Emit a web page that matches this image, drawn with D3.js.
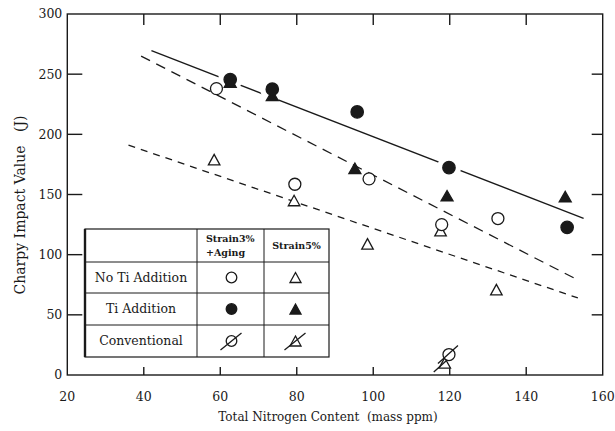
<!DOCTYPE html>
<html>
<head>
<meta charset="utf-8">
<script src="https://cdn.jsdelivr.net/npm/d3@7"></script>
<style>
  html, body { margin: 0; padding: 0; background: #fff; }
  svg { display: block; font-family: "DejaVu Serif", "Liberation Serif", serif; }
</style>
</head>
<body>
<div id="root"></div>
<script>
// values: [nitrogen ppm, impact J]
const noTiAging = [[59, 238], [79.5, 158.5], [98.9, 163], [117.9, 125], [132.6, 130]];
const noTiStrain5 = [[58.4, 179], [79.3, 145], [98.5, 109], [117.6, 120], [132.2, 71]];
const tiAging = [[62.6, 245.5], [73.6, 237.5], [95.8, 218.6], [119.8, 172.3], [150.7, 122.7]];
const tiStrain5 = [[62.6, 243.5], [73.6, 232.3], [95.2, 171.8], [119.3, 149], [150.2, 148.2]];
const convAging = [[119.8, 17]];
const convStrain5 = [[118.7, 10]];

// trend lines
const solidLine = [[42, 269.5], [155, 130.2]];
const dashUpper = [[39.3, 265], [153.5, 79]];
const dashLower = [[36, 191], [153.5, 64]];

const xTicks = [20, 40, 60, 80, 100, 120, 140, 160];
const yTicks = [0, 50, 100, 150, 200, 250, 300];

const rowLabels = ["No Ti Addition", "Ti Addition", "Conventional"];

const width = 615;
const height = 431;
const ink = "#1a1a1a";

const svg = d3
  .select("#root")
  .append("svg")
  .attr("width", width)
  .attr("height", height);

const x = d3.scaleLinear().domain([20, 160]).range([67.3, 602.7]);
const y = d3.scaleLinear().domain([0, 300]).range([375, 14]);

// frame
svg
  .append("rect")
  .attr("x", x(20))
  .attr("y", y(300))
  .attr("width", x(160) - x(20))
  .attr("height", y(0) - y(300))
  .attr("fill", "none")
  .attr("stroke", ink)
  .attr("stroke-width", 1.4);

// inward ticks on all sides
const axisG = svg.append("g").attr("stroke", ink).attr("stroke-width", 1.4);
xTicks.slice(1, -1).forEach((t) => {
  axisG.append("line").attr("x1", x(t)).attr("x2", x(t)).attr("y1", y(0)).attr("y2", y(0) - 8);
  axisG.append("line").attr("x1", x(t)).attr("x2", x(t)).attr("y1", y(300)).attr("y2", y(300) + 11);
});
yTicks.slice(1, -1).forEach((t) => {
  axisG.append("line").attr("x1", x(20)).attr("x2", x(20) + 15).attr("y1", y(t)).attr("y2", y(t));
  axisG.append("line").attr("x1", x(160)).attr("x2", x(160) - 11).attr("y1", y(t)).attr("y2", y(t));
});

// tick labels
svg
  .append("g")
  .selectAll("text")
  .data(xTicks)
  .join("text")
  .attr("x", (d) => x(d))
  .attr("y", 401)
  .attr("text-anchor", "middle")
  .attr("font-size", 12.5)
  .attr("fill", ink)
  .text((d) => d);

svg
  .append("g")
  .selectAll("text")
  .data(yTicks)
  .join("text")
  .attr("x", x(20) - 5)
  .attr("y", (d) => y(d))
  .attr("dy", "0.35em")
  .attr("text-anchor", "end")
  .attr("font-size", 12.5)
  .attr("fill", ink)
  .text((d) => d);

// axis titles
svg
  .append("text")
  .attr("x", 328)
  .attr("y", 421)
  .attr("text-anchor", "middle")
  .attr("font-size", 12)
  .attr("fill", ink)
  .attr("xml:space", "preserve")
  .text("Total Nitrogen Content  (mass ppm)");

svg
  .append("text")
  .attr("transform", "translate(20,205) rotate(-90)")
  .attr("dy", "0.35em")
  .attr("text-anchor", "middle")
  .attr("font-size", 14)
  .attr("fill", ink)
  .attr("xml:space", "preserve")
  .text("Charpy Impact Value   (J)");

// trend lines
const line = d3.line().x((d) => x(d[0])).y((d) => y(d[1]));
svg.append("path").datum(solidLine).attr("d", line)
  .attr("fill", "none").attr("stroke", ink).attr("stroke-width", 1.3);
svg.append("path").datum(dashUpper).attr("d", line)
  .attr("fill", "none").attr("stroke", ink).attr("stroke-width", 1.3)
  .attr("stroke-dasharray", "10,7");
svg.append("path").datum(dashLower).attr("d", line)
  .attr("fill", "none").attr("stroke", ink).attr("stroke-width", 1.3)
  .attr("stroke-dasharray", "7,6");

// white gaps where the solid line runs through the filled circles
const solidAt = d3.scaleLinear()
  .domain([solidLine[0][0], solidLine[1][0]])
  .range([solidLine[0][1], solidLine[1][1]]);
svg
  .append("g")
  .selectAll("circle")
  .data(tiAging.filter((d) => Math.abs(y(d[1]) - y(solidAt(d[0]))) < 10))
  .join("circle")
  .attr("cx", (d) => x(d[0]))
  .attr("cy", (d) => y(d[1]))
  .attr("r", 12)
  .attr("fill", "#fff");

// marker helpers
const tri = (w, h) => `M0,${-h / 2}L${w / 2},${h / 2}L${-w / 2},${h / 2}Z`;

function circles(g, data, r, filled) {
  g.append("g")
    .selectAll("circle")
    .data(data)
    .join("circle")
    .attr("cx", (d) => x(d[0]))
    .attr("cy", (d) => y(d[1]))
    .attr("r", r)
    .attr("fill", filled ? ink : "#fff")
    .attr("stroke", ink)
    .attr("stroke-width", 1.3);
}

function triangles(g, data, w, h, filled) {
  g.append("g")
    .selectAll("path")
    .data(data)
    .join("path")
    .attr("transform", (d) => `translate(${x(d[0])},${y(d[1])})`)
    .attr("d", tri(w, h))
    .attr("fill", filled ? ink : "#fff")
    .attr("stroke", ink)
    .attr("stroke-width", 1.3);
}

function slashes(g, data) {
  g.append("g")
    .selectAll("line")
    .data(data)
    .join("line")
    .attr("x1", (d) => x(d[0]) - 11)
    .attr("y1", (d) => y(d[1]) + 9)
    .attr("x2", (d) => x(d[0]) + 9)
    .attr("y2", (d) => y(d[1]) - 9)
    .attr("stroke", ink)
    .attr("stroke-width", 1.3);
}

const marks = svg.append("g");
triangles(marks, noTiStrain5, 11.5, 10.5, false);
triangles(marks, tiStrain5, 12, 10.5, true);
triangles(marks, convStrain5, 11.5, 10.5, false);
slashes(marks, convStrain5);
circles(marks, noTiAging, 6, false);
circles(marks, tiAging, 6.2, true);
circles(marks, convAging, 6, false);
slashes(marks, convAging);

// legend table
const tbl = { left: 85, top: 229, right: 329, bottom: 357 };
const colX = [tbl.left, 197, 264, tbl.right];
const rowY = [tbl.top, 262, 293, 325, tbl.bottom];

const legendG = svg.append("g");
legendG
  .append("rect")
  .attr("x", tbl.left)
  .attr("y", tbl.top)
  .attr("width", tbl.right - tbl.left)
  .attr("height", tbl.bottom - tbl.top)
  .attr("fill", "#fff")
  .attr("stroke", ink)
  .attr("stroke-width", 1.2);
legendG
  .append("line")
  .attr("x1", tbl.left).attr("x2", tbl.left)
  .attr("y1", tbl.top).attr("y2", tbl.bottom)
  .attr("stroke", ink).attr("stroke-width", 2.4);
rowY.slice(1, -1).forEach((ry) => {
  legendG.append("line")
    .attr("x1", tbl.left).attr("x2", tbl.right)
    .attr("y1", ry).attr("y2", ry)
    .attr("stroke", ink).attr("stroke-width", 1);
});
colX.slice(1, -1).forEach((cx) => {
  legendG.append("line")
    .attr("x1", cx).attr("x2", cx)
    .attr("y1", tbl.top).attr("y2", tbl.bottom)
    .attr("stroke", ink).attr("stroke-width", 1);
});

// header
const c2 = (colX[1] + colX[2]) / 2;
const c3 = (colX[2] + colX[3]) / 2;
legendG.append("text").attr("x", colX[1] + 9).attr("y", 242)
  .attr("font-size", 9.5).attr("font-weight", "bold").attr("fill", ink).text("Strain3%");
legendG.append("text").attr("x", colX[1] + 9).attr("y", 256)
  .attr("font-size", 9.5).attr("font-weight", "bold").attr("fill", ink).text("+Aging");
legendG.append("text").attr("x", c3).attr("y", 249).attr("text-anchor", "middle")
  .attr("font-size", 9.5).attr("font-weight", "bold").attr("fill", ink).text("Strain5%");

// row labels
legendG
  .selectAll("text.row")
  .data(rowLabels)
  .join("text")
  .attr("class", "row")
  .attr("x", (colX[0] + colX[1]) / 2)
  .attr("y", (d, i) => (rowY[i + 1] + rowY[i + 2]) / 2)
  .attr("dy", "0.35em")
  .attr("text-anchor", "middle")
  .attr("font-size", 12.5)
  .attr("fill", ink)
  .text((d) => d);

// legend markers
const rc = (i) => (rowY[i + 1] + rowY[i + 2]) / 2;
function lgCircle(cx, cy, filled) {
  legendG.append("circle").attr("cx", cx).attr("cy", cy).attr("r", 5.3)
    .attr("fill", filled ? ink : "#fff").attr("stroke", ink).attr("stroke-width", 1.3);
}
function lgTri(cx, cy, filled) {
  legendG.append("path").attr("transform", `translate(${cx},${cy})`).attr("d", tri(11, 10))
    .attr("fill", filled ? ink : "#fff").attr("stroke", ink).attr("stroke-width", 1.3);
}
function lgSlash(cx, cy) {
  legendG.append("line").attr("x1", cx - 11).attr("y1", cy + 9).attr("x2", cx + 10).attr("y2", cy - 8)
    .attr("stroke", ink).attr("stroke-width", 1.3);
}
lgCircle(c2 + 1, rc(0), false);
lgTri(c3 - 1, rc(0), false);
lgCircle(c2 + 1, rc(1), true);
lgTri(c3 - 1, rc(1), true);
lgCircle(c2 + 1, rc(2), false);
lgSlash(c2 + 1, rc(2));
lgTri(c3 - 1, rc(2), false);
lgSlash(c3 - 1, rc(2));
</script>
</body>
</html>
